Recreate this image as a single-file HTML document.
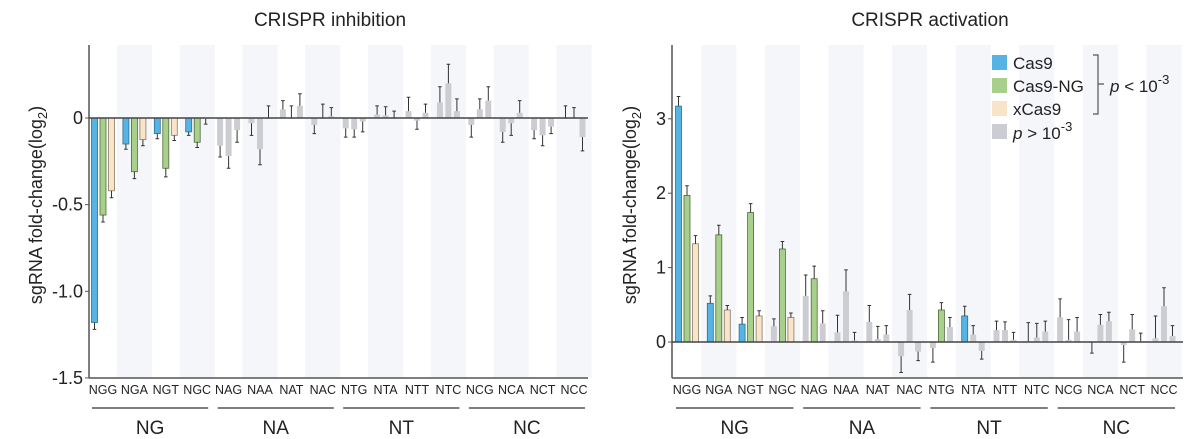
<!DOCTYPE html>
<html><head><meta charset="utf-8"><style>
html,body{margin:0;padding:0;background:#fff;}
svg{display:block;font-family:"Liberation Sans",sans-serif;}
</style></head><body>
<svg id="chart" width="1200" height="439" viewBox="0 0 1200 439" xmlns="http://www.w3.org/2000/svg">
<g id="L"></g>
<g id="R"></g>
</svg>
<script>
const categories = ["NGG","NGA","NGT","NGC","NAG","NAA","NAT","NAC","NTG","NTA","NTT","NTC","NCG","NCA","NCT","NCC"];
const groups = ["NG","NA","NT","NC"];
const inhibValues = [[-1.18,-0.56,-0.42],[-0.15,-0.31,-0.125],[-0.09,-0.29,-0.1],[-0.08,-0.14,-0.005],[-0.16,-0.22,-0.07],[-0.03,-0.18,0],[0.05,0,0.07],[-0.04,0,0.01],[-0.06,-0.065,-0.02],[0.02,0.015,0],[0.04,-0.015,0.03],[0.09,0.2,0.04],[-0.04,0.05,0.1],[-0.08,-0.03,0.03],[-0.07,-0.1,-0.05],[0,0,-0.11]];
const inhibErr = [[-1.22,-0.6,-0.46],[-0.18,-0.35,-0.16],[-0.12,-0.34,-0.13],[-0.1,-0.17,-0.035],[-0.225,-0.29,-0.14],[-0.1,-0.27,0.07],[0.1,0.07,0.14],[-0.09,0.08,0.06],[-0.11,-0.11,-0.08],[0.07,0.065,0.04],[0.12,-0.065,0.08],[0.18,0.31,0.11],[-0.11,0.11,0.18],[-0.14,-0.1,0.1],[-0.12,-0.16,-0.09],[0.07,0.06,-0.19]];
const inhibColors = ["cnx","cnx","cnx","cng","ggg","ggg","ggg","ggg","ggg","ggg","ggg","ggg","ggg","ggg","ggg","ggg"];
const actValues = [[3.17,1.97,1.32],[0.52,1.44,0.43],[0.24,1.74,0.35],[0.21,1.25,0.33],[0.62,0.85,0.25],[0.13,0.68,0.02],[0.27,0.04,0.1],[-0.19,0.43,-0.13],[-0.08,0.43,0.2],[0.35,0.1,-0.12],[0.16,0.16,0.03],[0.01,0.06,0.14],[0.33,0.03,0.14],[0,0.23,0.28],[-0.04,0.17,0.01],[0.05,0.48,0.08]];
const actErr = [[3.3,2.1,1.43],[0.62,1.57,0.49],[0.33,1.86,0.42],[0.31,1.35,0.39],[0.9,1.02,0.42],[0.36,0.97,0.13],[0.49,0.21,0.22],[-0.41,0.64,-0.25],[-0.27,0.53,0.33],[0.48,0.22,-0.23],[0.28,0.27,0.13],[0.26,0.25,0.28],[0.58,0.3,0.33],[-0.15,0.37,0.4],[-0.27,0.37,0.12],[0.35,0.73,0.22]];
const actColors = ["cnx","cnx","cnx","gnx","gng","ggg","ggg","ggg","gng","cgg","ggg","ggg","ggg","ggg","ggg","ggg"];
const inhibTicks = [0,-0.5,-1.0,-1.5];
const inhibTickLabels = ["0","-0.5","-1.0","-1.5"];
const actTicks = [0,1,2,3];
const actTickLabels = ["0","1","2","3"];

const NS="http://www.w3.org/2000/svg";
const FILL={c:"#55b4e4",n:"#a9cf8c",x:"#f8e4c9",g:"#cbcdd3"};
const STROKE={c:"#2f6f92",n:"#4f6b3b",x:"#8a7a63",g:"none"};
function mk(p,tag,attrs,text){const e=document.createElementNS(NS,tag);for(const k in attrs)e.setAttribute(k,attrs[k]);if(text!==undefined)e.textContent=text;p.appendChild(e);return e;}

function panel(g,cfg){
  const y=v=>cfg.zeroY-v*cfg.ppu;
  const x=i=>cfg.x0+i*cfg.step;
  // bands
  categories.forEach((c,i)=>{ if(i%2===1){const b=mk(g,"rect",{x:x(i)-17.5,y:cfg.top,width:35,height:cfg.bottom-cfg.top,fill:"#f4f6f9"});
    
    }});
  // title
  const t=mk(g,"text",{x:cfg.titleX,y:26,"font-size":19,"text-anchor":"middle",fill:"#222"},cfg.title);
  
  
  // y title
  const yt=mk(g,"text",{transform:`translate(${cfg.ytX},205) rotate(-90)`,"font-size":18,"text-anchor":"middle",fill:"#222"});
  
  
  yt.appendChild(document.createTextNode("sgRNA fold-change(log"));
  mk(yt,"tspan",{"font-size":13,dy:5},"2");
  mk(yt,"tspan",{dy:-5},")");
  // ticks
  cfg.ticks.forEach((v,i)=>{
    const l=mk(g,"text",{x:cfg.axisX-6,y:y(v)+6,"font-size":18,"text-anchor":"end",fill:"#222"},cfg.tickLabels[i]);
    
    
    mk(g,"line",{x1:cfg.axisX-4,x2:cfg.axisX,y1:y(v),y2:y(v),stroke:"#555","stroke-width":1});
  });
  // bars
  categories.forEach((c,i)=>{
    for(let k=0;k<3;k++){
      const v=cfg.vals[i][k], e=cfg.errs[i][k], col=cfg.cols[i][k];
      const cx=x(i)+(k-1)*8.5;
      const y1=Math.min(y(v),y(0)), h=Math.max(Math.abs(y(v)-y(0)),0.8);
      const r=mk(g,"rect",{x:cx-3,y:y1,width:6,height:h,fill:FILL[col],stroke:STROKE[col],"stroke-width":0.8});
      
      
      const el=mk(g,"path",{d:`M${cx} ${y(v)}V${y(e)}M${cx-1.8} ${y(e)}H${cx+1.8}`,stroke:"#333","stroke-width":1,fill:"none"});
      
      
    }
    const cl=mk(g,"text",{x:x(i),y:394,"font-size":12.5,"text-anchor":"middle",fill:"#222"},c);
    
    
  });
  // axes
  mk(g,"line",{x1:cfg.axisX,x2:cfg.axisX,y1:cfg.top,y2:cfg.bottom,stroke:"#555","stroke-width":1.5});
  mk(g,"line",{x1:cfg.axisX,x2:cfg.xEnd,y1:cfg.bottom,y2:cfg.bottom,stroke:"#555","stroke-width":1.5});
  mk(g,"line",{x1:cfg.axisX,x2:cfg.xEnd,y1:y(0),y2:y(0),stroke:"#444","stroke-width":1.5});
  // groups
  groups.forEach((gr,j)=>{
    const a=x(j*4)-11,b=x(j*4+3)+11;
    mk(g,"line",{x1:a,x2:b,y1:408,y2:408,stroke:"#555","stroke-width":1.5});
    const gl=mk(g,"text",{x:(a+b)/2,y:434,"font-size":19,"text-anchor":"middle",fill:"#222"},gr);
    
    
  });
}
panel(document.getElementById("L"),{title:"CRISPR inhibition",titleX:330,ytX:42,axisX:89,xEnd:588,top:45,bottom:378,zeroY:118,ppu:173.3,x0:103,step:31.4,vals:inhibValues,errs:inhibErr,cols:inhibColors,ticks:inhibTicks,tickLabels:inhibTickLabels});
panel(document.getElementById("R"),{title:"CRISPR activation",titleX:930,ytX:636,axisX:672,xEnd:1183,top:45,bottom:378,zeroY:342,ppu:74.4,x0:687,step:31.8,vals:actValues,errs:actErr,cols:actColors,ticks:actTicks,tickLabels:actTickLabels});

// legend
const R=document.getElementById("R");
const lg=mk(R,"g",{});


[["c","Cas9"],["n","Cas9-NG"],["x","xCas9"]].forEach((d,i)=>{
  const yy=55+i*23;
  mk(lg,"rect",{x:992,y:yy,width:15,height:15,fill:FILL[d[0]]});
  const t=mk(lg,"text",{x:1013,y:yy+14,"font-size":17,fill:"#222"},d[1]);
  
  
});
mk(lg,"rect",{x:992,y:124,width:15,height:15,fill:FILL.g});
const pg=mk(lg,"text",{x:1013,y:139,"font-size":17,fill:"#222"});


mk(pg,"tspan",{"font-style":"italic"},"p");
mk(pg,"tspan",{}," > 10");
mk(pg,"tspan",{"font-size":13,dy:-8},"-3");
mk(lg,"path",{d:"M1093 55H1098V114H1093M1098 84H1104",stroke:"#555","stroke-width":1.2,fill:"none"});
const pl=mk(lg,"text",{x:1110,y:92,"font-size":17,fill:"#222"});


mk(pl,"tspan",{"font-style":"italic"},"p");
mk(pl,"tspan",{}," < 10");
mk(pl,"tspan",{"font-size":13,dy:-8},"-3");
</script>
</body></html>
